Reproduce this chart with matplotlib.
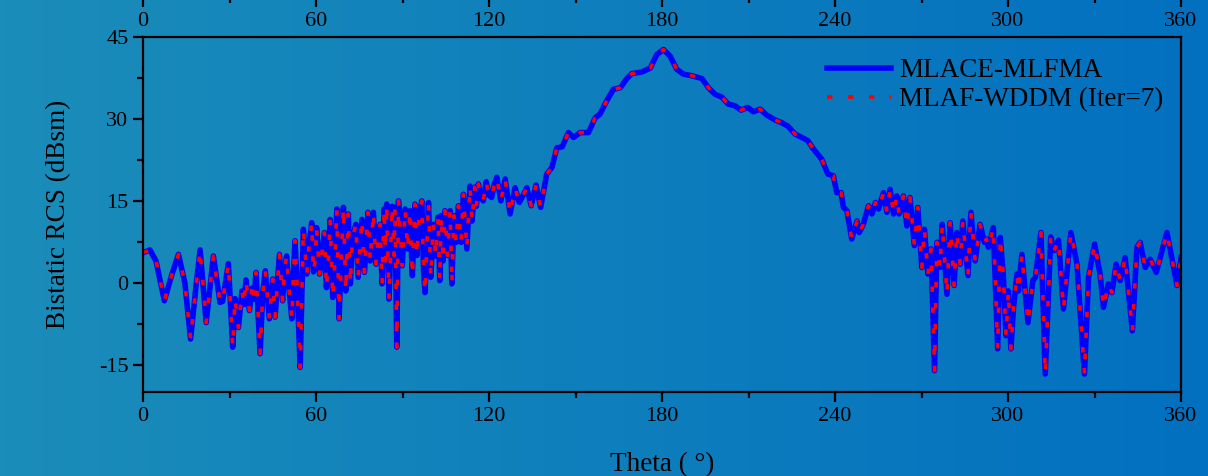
import matplotlib.pyplot as plt
import numpy as np

# Bistatic RCS (theta in degrees, RCS in dBsm)
theta = [0, 2.4, 4.5, 7.4, 10, 12.3, 14.5, 16.5, 18.3, 19.8, 21.9, 24.4, 26.7, 27.6, 29.6,
         31.1, 31.9, 33.1, 34.3, 35.0, 35.7, 36.9, 37.8, 38.5, 39.2, 40.6, 41.5, 42.4, 43.8,
         45.0, 45.8, 46.5, 47.3, 48.4, 49.1, 49.8, 50.6, 51.6, 52.2, 52.7, 53.4, 54.5, 55.6,
         56.8, 57.6, 58.5, 59.1, 59.7, 60.2, 61.2, 62.2, 62.9, 63.6, 64.4, 64.9, 65.8, 66.5,
         67.2, 68.0, 68.8, 69.5, 70.3, 71.2, 71.9, 72.6, 73.8, 74.6, 75.9, 76.8, 78.0, 78.8,
         79.9, 80.8, 81.5, 82.2, 82.9, 83.6, 84.1, 84.5, 85.3, 86.4, 87.0, 87.4, 88.0, 88.6,
         89.9, 90.9, 91.8, 92.6, 93.4, 94.3, 95.0, 95.8, 96.7, 97.3, 97.8, 98.5, 99.0, 99.8,
         100.7, 101.5, 102.3, 102.9, 103.4, 104.1, 104.7, 105.6, 106.5, 107.1, 107.8, 108.6,
         109.4, 110.3, 111.1, 111.7, 112.3, 113.4, 114.1, 115.0, 115.6, 116.3, 117.1, 118.0,
         119.0, 120.0, 120.9, 121.8, 122.7, 124.1, 125.6, 127.3, 129.0, 130.5, 131.8, 133.1,
         134.6, 136.3, 137.9, 140.0, 141.8, 143.5, 145.4, 147.5, 149.3, 151.6, 154.5, 156.8,
         158.5, 160.8, 163.1, 165.5, 167.8, 169.5, 173.0, 175.9, 178.2, 180.5, 182.8, 185.1,
         187.4, 190.3, 193.8, 196.1, 198.4, 200.7, 203.0, 205.3, 207.4, 209.7, 211.7, 214.0,
         216.3, 219.2, 221.5, 223.6, 226.2, 228.5, 230.6, 232.5, 235.4, 237.5, 239.4, 240.6,
         242.1, 242.9, 244.1, 245.8, 247.6, 248.4, 249.8, 251.6, 252.8, 254.0, 255.1, 256.8,
         258.0, 259.1, 260.3, 261.4, 262.2, 263.7, 264.9, 266.0, 267.5, 268.7, 270.1, 271.0,
         272.2, 273.3, 274.5, 275.3, 276.4, 277.2, 278.8, 279.9, 281.3, 282.2, 283.4, 284.3,
         286.1, 287.1, 288.6, 290.3, 291.8, 292.5, 293.2, 294.9, 296.4, 297.3, 298.4, 299.3,
         300.1, 301.0, 301.9, 303.1, 303.6, 304.8, 306.9, 308.6, 309.5, 311.4, 312.9, 314.8,
         316.0, 317.5, 319.2, 321.8, 323.9, 326.5, 327.9, 330.0, 331.9, 333.1, 334.8, 336.0,
         337.5, 338.9, 340.6, 343.1, 344.7, 345.8, 347.6, 349.3, 351.4, 355.1, 358.6, 360]
rcs = [5.5, 6.0, 4.0, -3.3, 1.5, 5.2, 0, -10.3, -1, 6.0, -7.3, 4.9, -3.6, -3.4, 3.5,
       -11.8, -2.9, -8.2, -1.5, -4.0, 0.5, -5.1, -1.0, -3.0, 1.9, -13.0, -2.0, 2.2, -6.6,
       0.7, -6.3, -1.0, 5.2, -3.3, 2.5, 4.9, -1.0, -6.6, 2.0, 7.7, 0, -15.5, 9.8,
       1.6, 7.0, 11.0, 2.0, 4.0, 10.1, 1.6, 6.0, 9.2, -0.9, 5.0, 11.6, -2.7, 4.0,
       13.5, -6.6, 5.0, 13.8, -1.5, 12.6, -0.2, 8.0, 10.7, 1.0, 11.6, 1.9, 12.9, 4.0,
       12.9, 3.4, 8.0, 10.7, -0.2, 13.5, 4.0, 14.4, -3.0, 14.0, 5.0, 13.8, -11.8, 15.0,
       3.1, 13.5, 6.2, 13.2, 1.3, 14.4, 5.0, 13.0, 15.0, 2.2, -1.8, 8.0, 14.7, 1.0,
       10.7, 4.9, 12.0, 0.4, 12.3, 4.0, 13.2, 5.0, 13.2, -0.2, 12.3, 7.4,
       14.1, 7.4, 16.2, 11.3, 6.2, 17.7, 11.3, 17.5, 14.0, 18.1, 15.6, 15.0,
       18.5, 16.0, 15.6, 18.0, 19.3, 15.0, 19.0, 12.6, 17.4, 14.7, 16.0, 17.4,
       14.1, 17.9, 13.8, 19.9, 21.1, 24.7, 24.9, 27.5, 26.6, 27.5, 27.5, 30.2,
       30.9, 33.3, 35.4, 35.7, 37.4, 38.3, 38.6, 39.3, 41.8, 42.7, 41.5, 39.1,
       38.2, 37.9, 37.4, 35.7, 34.5, 34.0, 32.7, 32.4, 31.6, 32.1, 31.3, 31.8,
       30.7, 29.8, 29.3, 28.7, 27.2, 26.6, 26.0, 24.5, 22.6, 19.9, 19.6, 16.5,
       16.5, 13.8, 13.2, 8.0, 11.3, 9.2, 10.7, 14.1, 12.6, 14.7, 13.5, 16.5,
       12.9, 17.1, 12.6, 15.9, 12.6, 15.9, 10.4, 15.6, 6.8, 13.8, 2.8, 9.8,
       1.6, 6.2, -16.1, 7.4, 2.8, 10.7, -2.1, 11.0, -0.5, 9.2, 3.4, 11.3,
       1.3, 12.9, 4.0, 10.7, 7.4, 8.0, 6.5, 10.1, -12.1, 8.3, 1.0, -9.7,
       -1.5, -12.1, -4.5, 1.6, -1.5, 5.2, -7.3, 0.4, 1.0, 9.2, -16.7, 8.4,
       5.9, 7.8, -4.8, 9.2, 3.4, -16.7, 1.0, 7.1, 1.6, -4.5, -0.2, -1.8,
       3.4, 0.4, 4.6, -8.8, 6.5, 7.4, 2.8, 4.3, 1.9, 9.2, -0.5, 4.6]

x_ticks = [0, 60, 120, 180, 240, 300, 360]
y_ticks = [-15, 0, 15, 30, 45]

plt.rcParams['font.family'] = ['Liberation Serif', 'DejaVu Serif']
plt.rcParams['axes.unicode_minus'] = False

fig = plt.figure(figsize=(12.08, 4.76), dpi=100)

# background gradient, teal on the left to blue on the right
bg = fig.add_axes([0, 0, 1, 1], zorder=-10)
c_left = np.array([27, 141, 185]) / 255
c_right = np.array([2, 112, 192]) / 255
grad = np.linspace(0, 1, 256)
img = c_left[None, :] * (1 - grad[:, None]) + c_right[None, :] * grad[:, None]
bg.imshow(img[None, :, :], aspect='auto', extent=[0, 1, 0, 1])
bg.axis('off')

ax = fig.add_axes([0.1184, 0.1765, 0.8593, 0.7458])
ax.set_facecolor('none')
ax.plot(theta, rcs, color='#0000ff', lw=4, label='MLACE-MLFMA')
ax.plot(theta, rcs, color='#ff0000', lw=2.6, linestyle=(0, (1.5, 4.3)),
        label='MLAF-WDDM (Iter=7)')

ax.set_xlim(0, 360)
ax.set_ylim(-20, 45)
ax.set_xticks(x_ticks)
ax.set_xticks(np.arange(30, 360, 60), minor=True)
ax.set_yticks(y_ticks)
ax.set_yticks(np.arange(-15, 45, 15) + 7.5, minor=True)
ax.tick_params(which='major', direction='out', length=7, width=1.6, labelsize=16, colors='black')
ax.tick_params(which='minor', direction='out', length=4.5, width=1.6)
for s in ax.spines.values():
    s.set_linewidth(1.6)

ax.set_xlabel('Theta ( °)', fontsize=19.5, labelpad=19)
ax.set_ylabel('Bistatic RCS (dBsm)', fontsize=19.5, labelpad=20)

ax.legend(loc='upper left', frameon=False, fontsize=19.5, handlelength=2.35,
          handletextpad=0.3, labelspacing=0.15, borderpad=0, borderaxespad=0,
          bbox_to_anchor=(0.659, 0.94))

# bottom edge of the subplot above, cut off at the top of the picture
ax_up = fig.add_axes([0.1184, 1.006, 0.8593, 0.5])
ax_up.set_facecolor('none')
ax_up.set_xlim(0, 360)
ax_up.set_xticks(x_ticks)
ax_up.set_xticks(np.arange(30, 360, 60), minor=True)
ax_up.set_yticks([])
ax_up.tick_params(which='major', direction='out', length=7, width=1.6, labelsize=16)
ax_up.tick_params(which='minor', direction='out', length=4.5, width=1.6)
for s in ax_up.spines.values():
    s.set_visible(False)

fig.savefig('out.png', dpi=100)
